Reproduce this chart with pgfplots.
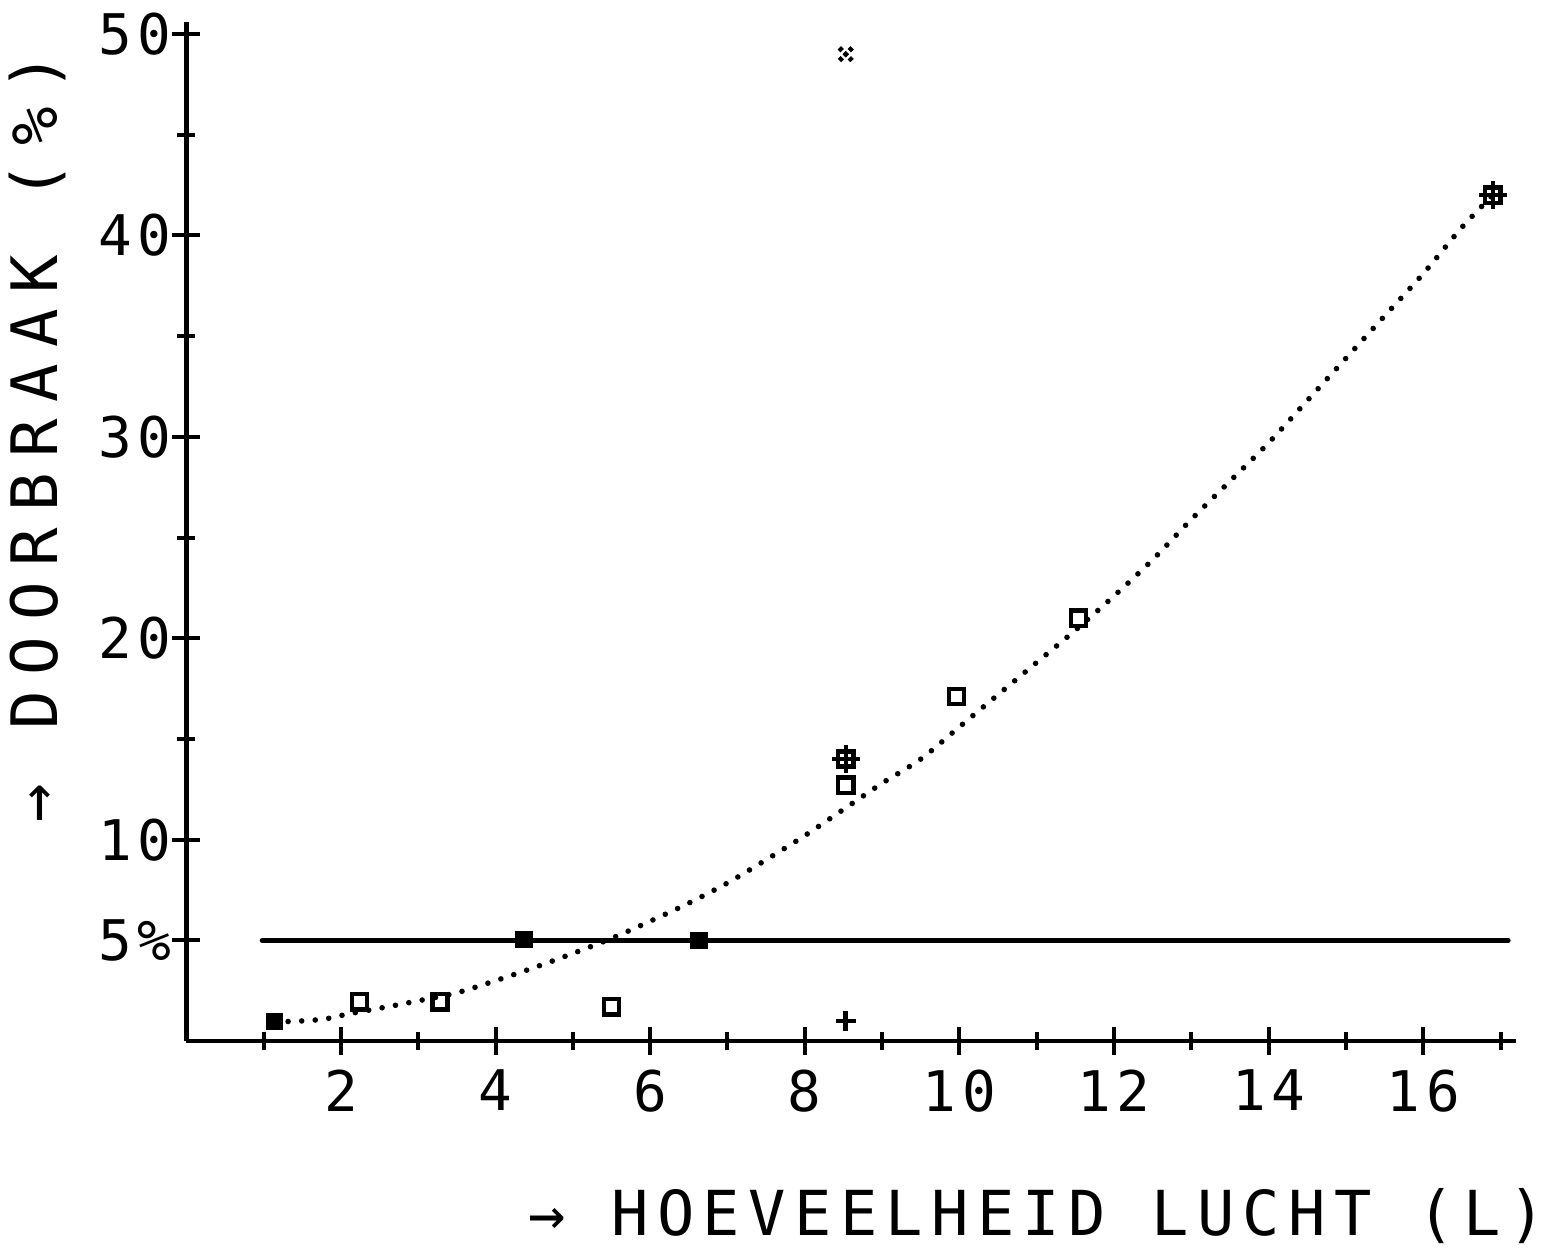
\documentclass[border=0pt]{standalone}
\usepackage{pgfplots}
\pgfplotsset{compat=1.18}
\usepackage{fontspec}
\newfontfamily\tickfont[LetterSpace=10]{DejaVu Sans Mono}
\newfontfamily\xlabfont[LetterSpace=13.5]{DejaVu Sans Mono}
\newfontfamily\ylabfont[LetterSpace=25]{DejaVu Sans Mono}
\begin{document}
\begin{tikzpicture}
\begin{axis}[
  x=38.65pt, y=10.07pt,
  xmin=0, xmax=17.2, ymin=0, ymax=50.6,
  axis x line=bottom, axis y line=left,
  axis line style={-, line width=2.3pt},
  clip=false,
  xtick={2,4,6,8,10,12,14,16},
  xticklabels={2,4,6,8,10,12,14,16},
  minor xtick={1,3,5,7,9,11,13,15,17},
  ytick={5,10,20,30,40,50},
  yticklabels={5\%,10,20,30,40,50},
  minor ytick={15,25,35,45},
  tick align=center,
  major tick length=14pt, minor tick length=9pt,
  tick style={black, line width=2pt},
  ticklabel style={font=\tickfont\fontsize{28}{28}\selectfont},
  xticklabel style={anchor=north, yshift=-4pt},
  yticklabel style={anchor=east, xshift=3pt},
  xlabel={→ HOEVEELHEID LUCHT (L)},
  xlabel style={font=\xlabfont\fontsize{31}{31}\selectfont, at={(axis description cs:0.640,-0.172)}, anchor=center},
  ylabel={→ DOORBRAAK (\%)},
  ylabel style={font=\ylabfont\fontsize{32}{32}\selectfont, at={(axis description cs:-0.112,0.592)}, anchor=center, rotate=0},
]
% 5% threshold line
\addplot[black, line width=2.4pt, line cap=round] coordinates {(0.98,5) (17.1,5)};
% dotted fitted curve
\addplot[black, smooth, line width=2.8pt, line cap=round, dash pattern=on 0pt off 6.8pt] table {
x y
1.14 0.95
1.5 1.0
1.8 1.1
2.1 1.35
2.6 1.7
3.0 2.0
3.5 2.4
4.0 3.0
4.5 3.65
5.0 4.35
5.5 5.1
6.0 5.95
6.5 6.85
7.0 7.85
7.5 9.0
8.0 10.2
8.5 11.5
9.0 12.8
9.5 14.0
10.0 15.6
10.5 17.2
11.0 18.8
11.5 20.4
12.0 22.1
12.5 23.9
13.0 25.9
13.5 27.8
14.0 29.7
14.5 31.8
15.0 33.9
15.5 36.0
16.0 38.1
16.5 40.4
16.9 42.0
};
% filled squares
\addplot[only marks, mark=square*, mark size=4.2pt, black] coordinates {(1.14,0.98) (4.37,5.05) (6.63,5.0)};
% open squares
\addplot[only marks, mark=square, mark size=3.8pt, black, line width=2.2pt] coordinates {(2.24,1.95) (3.28,1.95) (5.5,1.7) (8.53,12.7) (8.53,14.0) (9.96,17.1) (11.54,21.0) (16.9,42.0)};
% plus marks
\addplot[only marks, mark=+, mark size=5pt, black, line width=2.4pt] coordinates {(8.53,1.0)};
\addplot[only marks, mark=+, mark size=7pt, black, line width=2.2pt] coordinates {(8.53,14.0) (16.9,42.0)};
% cross mark
\addplot[only marks, mark=x, mark size=4.5pt, black, line width=2.4pt, dash pattern=on 2pt off 1.5pt] coordinates {(8.53,49.0)};
\coordinate (BL) at (axis cs:-2.411,-10.53);
\coordinate (TR) at (axis cs:17.718,51.69);
\end{axis}
\pgfresetboundingbox
\path[use as bounding box] (BL) rectangle (TR);
\end{tikzpicture}
\end{document}
